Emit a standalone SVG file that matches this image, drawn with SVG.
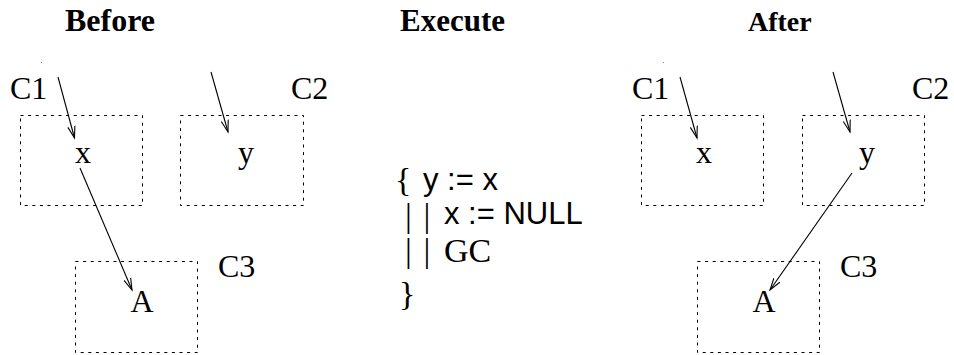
<svg xmlns="http://www.w3.org/2000/svg" width="954" height="355" viewBox="0 0 954 355">
<defs>
<style>
.box{fill:none;stroke:#000;stroke-width:1;stroke-dasharray:3 4.6}
.lbl{font-family:"Liberation Serif","Times New Roman",serif;font-size:32px;fill:#000}
.hd{font-family:"Liberation Serif","Times New Roman",serif;font-weight:bold;fill:#000}
.sans{font-family:"Liberation Sans",Arial,sans-serif;font-size:31px;fill:#000}
.ser{font-family:"Liberation Serif","Times New Roman",serif;font-size:34px;fill:#000}
.edge{fill:none;stroke:#000;stroke-width:1.1;marker-end:url(#arr)}
</style>
<marker id="arr" markerUnits="userSpaceOnUse" markerWidth="14" markerHeight="10" viewBox="-12 -5 14 10" refX="0" refY="0" orient="auto">
<path d="M -12 -3.6 L 0 0 L -12 3.6" fill="none" stroke="#000" stroke-width="1.1"/>
</marker>
</defs>
<rect width="954" height="355" fill="#fff"/>
<g id="headings">
<text class="hd" x="65" y="31" font-size="32">Before</text>
<text class="hd" x="400" y="31" font-size="31">Execute</text>
<text class="hd" x="748" y="31" font-size="28">After</text>
</g>
<g id="before-c1">
<rect class="box" x="20.5" y="115.5" width="122" height="90"/>
<text class="lbl" x="10" y="99">C1</text>
<text class="lbl" x="83" y="163" text-anchor="middle">x</text>
</g>
<g id="before-c2">
<rect class="box" x="180.5" y="115.5" width="123" height="90"/>
<text class="lbl" x="291" y="99">C2</text>
<text class="lbl" x="246" y="163" text-anchor="middle">y</text>
</g>
<g id="before-c3">
<rect class="box" x="75.5" y="261.5" width="122" height="91"/>
<text class="lbl" x="218" y="277">C3</text>
<text class="lbl" x="142" y="312" text-anchor="middle">A</text>
</g>
<g id="after-c1">
<rect class="box" x="641.5" y="115.5" width="122" height="90"/>
<text class="lbl" x="632" y="99">C1</text>
<text class="lbl" x="704" y="163" text-anchor="middle">x</text>
</g>
<g id="after-c2">
<rect class="box" x="802.5" y="115.5" width="122" height="90"/>
<text class="lbl" x="912" y="99">C2</text>
<text class="lbl" x="867" y="163" text-anchor="middle">y</text>
</g>
<g id="after-c3">
<rect class="box" x="697.5" y="261.5" width="122" height="91"/>
<text class="lbl" x="840" y="277">C3</text>
<text class="lbl" x="764" y="312" text-anchor="middle">A</text>
</g>
<g id="execute">
<text class="ser" x="395" y="191" font-size="30">{</text>
<text class="sans" x="423" y="190">y := x</text>
<text class="ser" x="405" y="227">|</text>
<text class="ser" x="423.5" y="227">|</text>
<text class="sans" x="444" y="224">x := NULL</text>
<text class="ser" x="405" y="262">|</text>
<text class="ser" x="423.5" y="262">|</text>
<text class="ser" x="444" y="262">GC</text>
<text class="ser" x="399" y="305">}</text>
</g>
<g id="connectors">
<line class="edge" x1="58" y1="77" x2="74.5" y2="138"/>
<line class="edge" x1="211" y1="72" x2="228" y2="132"/>
<line class="edge" x1="80" y1="168" x2="132" y2="290"/>
<line class="edge" x1="680" y1="77" x2="697" y2="138"/>
<line class="edge" x1="833" y1="72" x2="850" y2="132"/>
<line class="edge" x1="852" y1="173" x2="770" y2="290"/>
</g>
<g id="specks">
<rect x="41" y="62" width="1" height="1" fill="#888"/>
<rect x="663" y="62" width="1" height="1" fill="#888"/>
</g>
</svg>
